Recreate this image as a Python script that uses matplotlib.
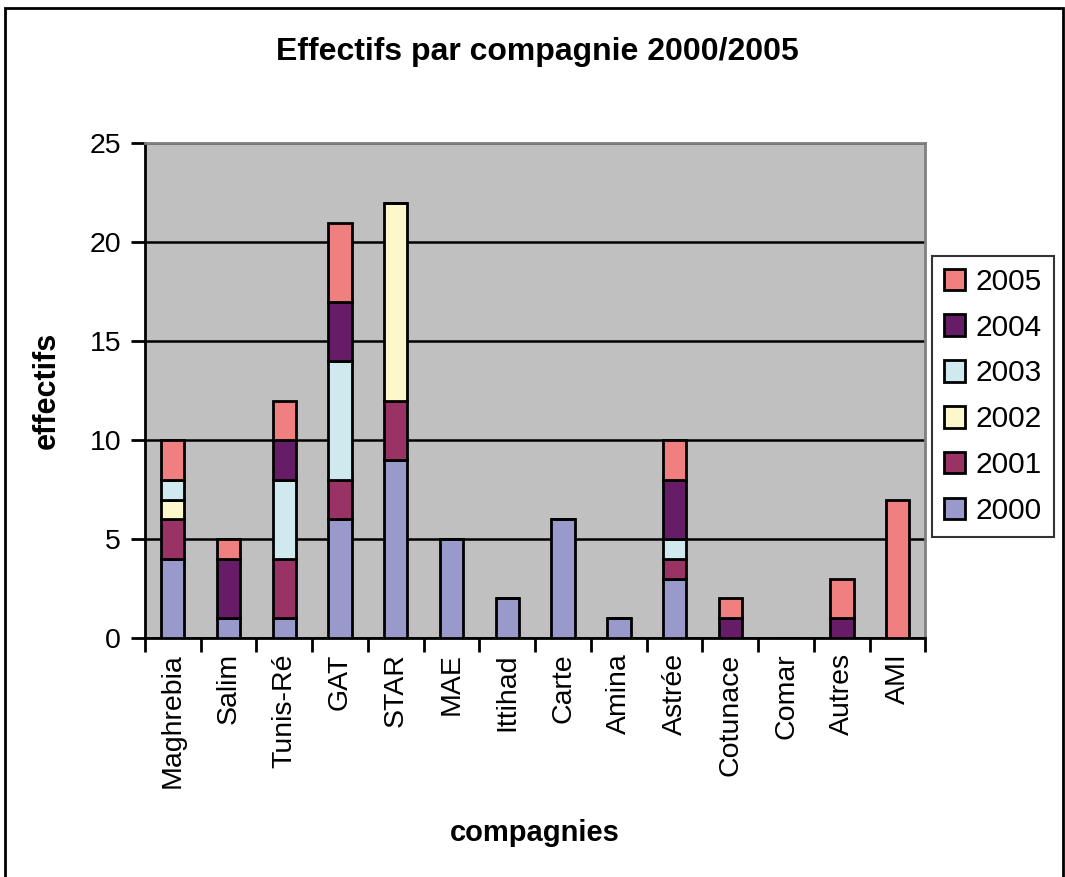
import matplotlib
matplotlib.use("Agg")
import matplotlib.pyplot as plt
import matplotlib.patches as patches
import numpy as np

plt.rcParams['font.family'] = ['Liberation Sans', 'DejaVu Sans']

# compagnies et effectifs par année
compagnies = ['Maghrebia', 'Salim', 'Tunis-Ré', 'GAT', 'STAR', 'MAE', 'Ittihad',
              'Carte', 'Amina', 'Astrée', 'Cotunace', 'Comar', 'Autres', 'AMI']
annees = ['2000', '2001', '2002', '2003', '2004', '2005']
v2000 = [4, 1, 1, 6, 9, 5, 2, 6, 1, 3, 0, 0, 0, 0]
v2001 = [2, 0, 3, 2, 3, 0, 0, 0, 0, 1, 0, 0, 0, 0]
v2002 = [1, 0, 0, 0, 10, 0, 0, 0, 0, 0, 0, 0, 0, 0]
v2003 = [1, 0, 4, 6, 0, 0, 0, 0, 0, 1, 0, 0, 0, 0]
v2004 = [0, 3, 2, 3, 0, 0, 0, 0, 0, 3, 1, 0, 1, 0]
v2005 = [2, 1, 2, 4, 0, 0, 0, 0, 0, 2, 1, 0, 2, 7]
couleurs = ['#9999CC', '#993366', '#FCF8CC', '#D0E9EE', '#661C66', '#F08080']

series = [v2000, v2001, v2002, v2003, v2004, v2005]

fig = plt.figure(figsize=(10.65, 8.77), dpi=100)
ax = fig.add_axes([0.136, 0.2725, 0.733, 0.564])
ax.set_facecolor('#C0C0C0')

x = np.arange(len(compagnies))
bas = np.zeros(len(compagnies))
for an, vals, c in zip(annees, series, couleurs):
    vals = np.array(vals)
    ax.bar(x, vals, 0.42, bottom=bas, color=c, edgecolor='black',
           linewidth=2, label=an, zorder=3)
    bas += vals

ax.set_ylim(0, 25)
ax.set_xlim(-0.5, len(compagnies) - 0.5)
ax.set_yticks(range(0, 26, 5))
ax.yaxis.grid(True, color='black', linewidth=1.8, zorder=1)
ax.set_axisbelow(True)

ax.set_xticks(x)
ax.set_xticklabels(compagnies, rotation=90, fontsize=20.5)
ax.set_xticks(np.arange(-0.5, len(compagnies), 1), minor=True)
ax.tick_params(axis='x', which='major', length=0, pad=11)
ax.tick_params(axis='x', which='minor', length=10, width=2, direction='out')
ax.tick_params(axis='y', length=10, width=2, direction='out', labelsize=20.5, pad=7)

for s in ['top', 'right']:
    ax.spines[s].set_color('#808080')
    ax.spines[s].set_linewidth(2)
for s in ['left', 'bottom']:
    ax.spines[s].set_color('black')
    ax.spines[s].set_linewidth(2)

ax.set_ylabel('effectifs', fontsize=22, fontweight='bold', labelpad=20)
ax.set_xlabel('compagnies', fontsize=21, fontweight='bold', labelpad=22)
fig.text(0.505, 0.941, 'Effectifs par compagnie 2000/2005', ha='center', va='center',
         fontsize=23, fontweight='bold')

h, l = ax.get_legend_handles_labels()
leg = fig.legend(h[::-1], l[::-1], loc='center left', bbox_to_anchor=(0.875, 0.548),
                 fontsize=21.5, frameon=True, fancybox=False, edgecolor='black',
                 handlelength=0.72, handleheight=0.72, handletextpad=0.35,
                 labelspacing=0.6, borderpad=0.4, borderaxespad=0)
leg.get_frame().set_linewidth(1.5)

fig.patches.append(patches.Rectangle((0.005, -0.01), 0.993, 1.001,
                                     transform=fig.transFigure, fill=False,
                                     edgecolor='black', linewidth=2))

fig.savefig('out.png', dpi=100)
